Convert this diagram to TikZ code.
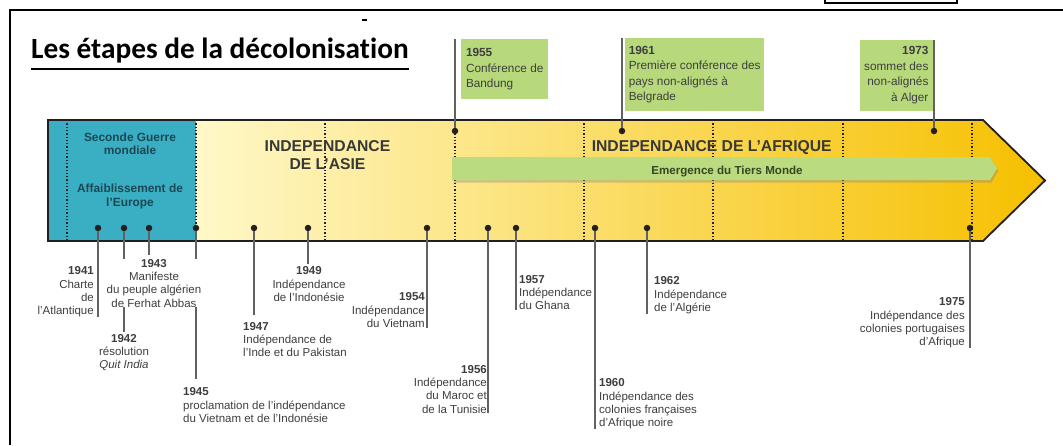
\documentclass[tikz,border=0pt]{standalone}
\usepackage{fontspec}
\setmainfont{Liberation Sans}
\newfontfamily\titlefont[Ligatures=NoCommon]{Carlito}
\usepackage{xcolor}
\usetikzlibrary{shadows}

\definecolor{tealbox}{RGB}{58,174,195}
\definecolor{tealtxt}{RGB}{28,72,84}
\definecolor{leaf}{RGB}{183,217,124}
\definecolor{bar}{RGB}{186,219,128}
\definecolor{bartxt}{RGB}{55,70,35}
\definecolor{ink}{RGB}{35,31,32}
\definecolor{txt}{RGB}{62,62,62}
\definecolor{pale}{RGB}{255,248,200}
\definecolor{mid}{RGB}{251,222,128}
\definecolor{gold}{RGB}{246,192,0}

\tikzset{
  dot/.style={circle,fill=ink,inner sep=0pt,minimum size=6.5pt},
  tick/.style={draw=black!62,line width=1.1pt},
  lab/.style={inner sep=0pt,text=txt,font=\fontsize{11.5}{13.3}\selectfont},
  gbox/.style={fill=leaf,inner sep=3pt,text=txt,font=\fontsize{11.8}{15.5}\selectfont},
  sep/.style={dotted,line width=1.3pt,ink},
  head/.style={inner sep=0pt,text=black!78,align=center,font=\bfseries\fontsize{15.7}{18}\selectfont},
  war/.style={inner sep=0pt,text=tealtxt,align=center,font=\bfseries\fontsize{11.9}{13.3}\selectfont}
}

\begin{document}
\begin{tikzpicture}[x=1pt,y=-1pt]
    \useasboundingbox (0,0) rectangle (1063,445);
    \draw[line width=1.8pt] (10,445) -- (10,10) -- (1063,10);
    \draw[line width=1.1pt] (825,-3) rectangle (957,3);
    \draw[line width=1.2pt] (362,20) -- (367,20);

    \node[anchor=base west,inner sep=0pt] (title) at (31,58.5)
      {\titlefont\bfseries\fontsize{29.3}{32}\selectfont Les étapes de la décolonisation};
    \draw[line width=1.6pt] ([yshift=-10.5pt]title.base west) -- ([yshift=-10.5pt]title.base east);

    \shade[left color=pale,middle color=mid,right color=gold]
      (196,120) -- (983,120) -- (1045,180.5) -- (983,241) -- (196,241) -- cycle;
    \fill[tealbox] (48,120) rectangle (196,241);
    \foreach \x in {67,196,325,455,584,713,843,972}
      \draw[sep] (\x,120) -- (\x,241);

    \node[war] (ww2) at (130,143.5) {Seconde Guerre\\mondiale};
    \node[war] (europe) at (130,196.5) {Affaiblissement de\\l’Europe};
    \node[head] (asie) at (327.5,155) {INDEPENDANCE\\DE L’ASIE};
    \node[head] (afrique) at (711.7,147.5) {INDEPENDANCE DE L’AFRIQUE};

    \fill[bar,drop shadow={shadow xshift=1.5pt,shadow yshift=-2.5pt,opacity=.35}]
      (452,157) -- (990,157) -- (997,168.5) -- (990,180) -- (452,180) -- cycle;
    \node[inner sep=0pt,text=bartxt,font=\bfseries\fontsize{11.6}{13}\selectfont] (tiers) at (727,171.5)
      {Emergence du Tiers Monde};

    \draw[ink,line width=1.8pt] (48,120) -- (983,120) -- (1045,180.5) -- (983,241) -- (48,241) -- cycle;

    \node[dot] (d41) at (98,228) {};
    \node[dot] (d42) at (124,228) {};
    \node[dot] (d43) at (149,228) {};
    \node[dot] (d45) at (196,228) {};
    \node[dot] (d47) at (254,228) {};
    \node[dot] (d49) at (308,228) {};
    \node[dot] (d54) at (427,228) {};
    \node[dot] (d55) at (455,131) {};
    \node[dot] (d56) at (488,228) {};
    \node[dot] (d57) at (516,228) {};
    \node[dot] (d60) at (595,228) {};
    \node[dot] (d61) at (622,131) {};
    \node[dot] (d62) at (647,228) {};
    \node[dot] (d73) at (934,131) {};
    \node[dot] (d75) at (970,228) {};

    \node[gbox,align=left,minimum width=87pt,minimum height=60pt,anchor=north west] (b55) at (461,39)
      {\textbf{1955}\\Conférence de\\Bandung};
    \node[gbox,align=left,minimum width=139pt,minimum height=73pt,anchor=north west] (b61) at (625,38)
      {\textbf{1961}\\Première conférence des\\pays non-alignés à\\Belgrade};
    \node[gbox,align=right,minimum width=73pt,minimum height=71pt,anchor=north east,text depth=4pt] (b73) at (933,40)
      {\textbf{1973}\\sommet des\\non-alignés\\à Alger};

    \node[lab,align=right,anchor=north east] (l41) at (94,266.6)
      {\textbf{1941}\\Charte\\de\\l’Atlantique};
    \node[lab,align=center,anchor=north] (l42) at (124,334)
      {\textbf{1942}\\résolution\\\textit{Quit India}};
    \node[lab,align=left,anchor=north west] (l45) at (183,387.6)
      {\textbf{1945}\\proclamation de l’indépendance\\du Vietnam et de l’Indonésie};
    \node[lab,align=left,anchor=north west] (l47) at (243,322)
      {\textbf{1947}\\Indépendance de\\l’Inde et du Pakistan};
    \node[lab,align=center,anchor=north] (l49) at (309,266.6)
      {\textbf{1949}\\Indépendance\\de l’Indonésie};
    \node[lab,align=right,anchor=north east] (l54) at (425,292.6)
      {\textbf{1954}\\Indépendance\\du Vietnam};
    \node[lab,align=right,anchor=north east] (l56) at (487,365)
      {\textbf{1956}\\Indépendance\\du Maroc et\\de la Tunisie};
    \node[lab,align=left,anchor=north west] (l57) at (519,275)
      {\textbf{1957}\\Indépendance\\du Ghana};
    \node[lab,align=left,anchor=north west] (l60) at (599,378.6)
      {\textbf{1960}\\Indépendance des\\colonies françaises\\d’Afrique noire};
    \node[lab,align=left,anchor=north west] (l62) at (654,276.6)
      {\textbf{1962}\\Indépendance\\de l’Algérie};
    \node[lab,align=right,anchor=north east] (l75) at (965,297.6)
      {\textbf{1975}\\Indépendance des\\colonies portugaises\\d’Afrique};

    \draw[tick] (d55 |- b55.north) -- (d55);
    \draw[tick] (d61 |- b61.north) -- (d61);
    \draw[tick] (d73 |- b73.north) -- (d73);
    \draw[tick] (d41) -- (d41 |- l41.south);
    \draw[tick,shorten >=2pt] (d42) -- (d42 |- l42.north);
    \draw[tick,shorten >=9pt] (d45) -- (d45 |- l45.north);
    \draw[tick,shorten >=7pt] (d47) -- (d47 |- l47.north);
    \draw[tick,shorten >=3pt] (d49) -- (d49 |- l49.north);
    \draw[tick] (d54) -- (d54 |- l54.south);
    \draw[tick] (d56) -- (d56 |- l56.south);
    \draw[tick] (d57) -- (d57 |- l57.south);
    \draw[tick] (d60) -- (d60 |- l60.south);
    \draw[tick] (d62) -- (d62 |- l62.south);
    \draw[tick] (d75) -- (d75 |- l75.south);

    \node[lab,align=center,anchor=north,fill=white] (l43) at (154,259)
      {\textbf{1943}\\Manifeste\\du peuple algérien\\de Ferhat Abbas};
    \draw[tick,shorten >=4pt] (d43) -- (d43 |- l43.north);
\end{tikzpicture}
\end{document}
